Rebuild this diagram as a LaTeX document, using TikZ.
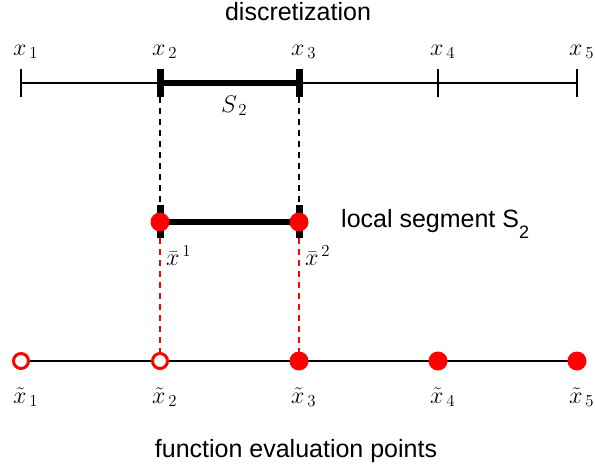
\RequirePackage{fix-cm}
\documentclass[tikz,border=0pt]{standalone}
\usepackage{fontspec}
\setsansfont{Liberation Sans}
\begin{document}
\begin{tikzpicture}[x=1pt,y=-1pt,
  axis/.style={line width=2.3pt},
  seg/.style={line width=6pt},
  tick/.style={line width=2.8pt},
  thicktick/.style={line width=7pt},
  blackdash/.style={line width=1.3pt,dash pattern=on 6pt off 5pt},
  reddash/.style={red,line width=1.3pt,dash pattern=on 6pt off 5pt},
  filled/.style={circle,fill=red,inner sep=0pt,minimum size=19pt},
  open/.style={circle,draw=red,line width=3pt,fill=white,inner sep=0pt,minimum size=15pt},
  mlab/.style={font=\fontsize{24}{28}\selectfont,inner sep=0pt,anchor=base west},
  slab/.style={font=\sffamily\fontsize{25}{28}\selectfont,inner sep=0pt,anchor=base}]
\useasboundingbox (0,0) rectangle (595,466);
% top discretization line
\foreach \i/\x in {1/21,2/160,3/299,4/438,5/577}{
  \coordinate (t\i) at (\x,83);
  \coordinate (tt\i) at (\x,69);
  \coordinate (tb\i) at (\x,97);
}
\draw[axis] (t1) -- (t5);
\draw[seg] (t2) -- (t3);
\foreach \i in {1,4,5}{\draw[tick] (tt\i) -- (tb\i);}
\foreach \i in {2,3}{\draw[thicktick] (tt\i) -- (tb\i);}
\foreach \i/\x in {1/21,2/160,3/299,4/438,5/577}{
  \node[mlab] (xl\i) at (\x-8,55) {$x_{\,\i}$};
}
\node[mlab] (S2) at (221,112) {$S_{\,2}$};
\node[slab] (title) at (298,20) {discretization};
% local segment
\coordinate (l1) at (160,222);
\coordinate (l2) at (299,222);
\coordinate (l1t) at (160,205);
\coordinate (l1b) at (160,238);
\coordinate (l2t) at (299,205);
\coordinate (l2b) at (299,238);
\draw[seg] (l1) -- (l2);
\draw[thicktick] (l1t) -- (l1b);
\draw[thicktick] (l2t) -- (l2b);
\node[filled] (p1) at (l1) {};
\node[filled] (p2) at (l2) {};
\node[mlab] (b1) at (166,265) {$\bar{x}^{\,1}$};
\node[mlab] (b2) at (305,265) {$\bar{x}^{\,2}$};
\node[slab,anchor=base west] (loc) at (341,227) {local segment S\raisebox{-11pt}{\fontsize{18}{18}\selectfont 2}};
% dashed connectors
\draw[blackdash] (tb2) -- (l1t);
\draw[blackdash] (tb3) -- (l2t);
% bottom line
\foreach \i/\x in {1/21,2/160,3/299,4/438,5/577}{
  \coordinate (f\i) at (\x,361);
}
\draw[reddash] (l1b) -- (f2);
\draw[reddash] (l2b) -- (f3);
\draw[axis] (f1) -- (f5);
\node[open] (e1) at (f1) {};
\node[open] (e2) at (f2) {};
\node[filled] (e3) at (f3) {};
\node[filled] (e4) at (f4) {};
\node[filled] (e5) at (f5) {};
\foreach \i/\x in {1/21,2/160,3/299,4/438,5/577}{
  \node[mlab] (tl\i) at (\x-8,403) {$\tilde{x}_{\,\i}$};
}
\node[slab] (bottom) at (296,457) {function evaluation points};
\end{tikzpicture}
\end{document}
